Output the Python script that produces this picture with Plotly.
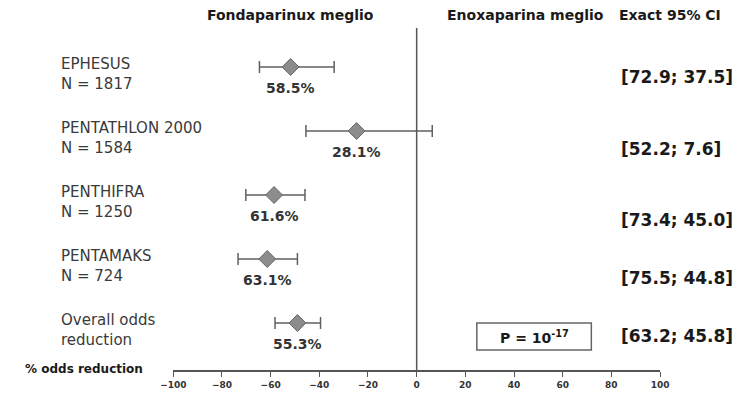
import plotly.graph_objects as go

# ---- data ----
studies = ["EPHESUS", "PENTATHLON 2000", "PENTHIFRA", "PENTAMAKS", "Overall odds<br>reduction"]
subtitles = ["N = 1817", "N = 1584", "N = 1250", "N = 724", ""]
point = [-51.8, -24.7, -58.6, -61.4, -49.0]
ci_low = [-64.6, -45.5, -70.2, -73.4, -58.2]
ci_high = [-33.9, 6.4, -45.9, -49.0, -39.5]
pct_labels = ["58.5%", "28.1%", "61.6%", "63.1%", "55.3%"]
ci_labels = ["[72.9; 37.5]", "[52.2; 7.6]", "[73.4; 45.0]", "[75.5; 44.8]", "[63.2; 45.8]"]
tick_vals = [-100, -80, -60, -40, -20, 0, 20, 40, 60, 80, 100]

W, H = 742, 395
FONT = "DejaVu Sans"
rows = list(range(len(studies)))

def px(x):
    return x / W

def py(y):
    return 1 - y / H

fig = go.Figure()
fig.add_trace(go.Scatter(
    x=point, y=rows, mode="markers",
    marker=dict(symbol="diamond", size=13, color="#8c8c8c",
                line=dict(color="#666666", width=1)),
    error_x=dict(type="data", symmetric=False,
                 array=[h - p for h, p in zip(ci_high, point)],
                 arrayminus=[p - l for p, l in zip(point, ci_low)],
                 color="#606060", thickness=1.5, width=6),
    showlegend=False, hoverinfo="skip",
))

ann = []
# headers
ann.append(dict(x=px(286), y=py(15), xref="paper", yref="paper", text="Fondaparinux meglio",
                showarrow=False, xanchor="center", yanchor="middle",
                font=dict(family=FONT, size=14, color="#1a1a1a", weight="bold")))
ann.append(dict(x=px(445), y=py(15), xref="paper", yref="paper", text="Enoxaparina meglio",
                showarrow=False, xanchor="left", yanchor="middle",
                font=dict(family=FONT, size=14, color="#1a1a1a", weight="bold")))
ann.append(dict(x=px(622), y=py(15), xref="paper", yref="paper", text="Exact 95% CI",
                showarrow=False, xanchor="left", yanchor="middle",
                font=dict(family=FONT, size=14, color="#1a1a1a", weight="bold")))

ci_shift = [-10, -18, -25, -19, -13]
for i in rows:
    txt = studies[i] + ("<br>" + subtitles[i] if subtitles[i] else "")
    ann.append(dict(x=px(47), y=i, xref="paper", yref="y", text=txt, showarrow=False,
                    xanchor="left", yanchor="middle", align="left", yshift=-7,
                    font=dict(family=FONT, size=15, color="#3a3a3a")))
    ann.append(dict(x=point[i], y=i, xref="x", yref="y", text=pct_labels[i], showarrow=False,
                    xanchor="center", yanchor="middle", yshift=-21,
                    font=dict(family=FONT, size=14, color="#333333", weight="bold")))
    ann.append(dict(x=px(625), y=i, xref="paper", yref="y", text=ci_labels[i], showarrow=False,
                    xanchor="left", yanchor="middle", yshift=ci_shift[i],
                    font=dict(family=FONT, size=17, color="#1a1a1a", weight="bold")))

ann.append(dict(x=px(10), y=py(369), xref="paper", yref="paper", text="% odds reduction",
                showarrow=False, xanchor="left", yanchor="middle",
                font=dict(family=FONT, size=12, color="#1a1a1a", weight="bold")))
ann.append(dict(x=px(537), y=py(337), xref="paper", yref="paper",
                text="P = 10<sup>-17</sup>", showarrow=False, xanchor="center", yanchor="middle",
                font=dict(family=FONT, size=14, color="#1a1a1a", weight="bold")))

shapes = [
    dict(type="line", xref="x", yref="paper", x0=0, x1=0, y0=py(370), y1=py(28),
         line=dict(color="#555555", width=1.5)),
    dict(type="rect", xref="paper", yref="paper", x0=px(478), x1=px(596), y0=py(350), y1=py(323),
         line=dict(color="#666666", width=1.5), fillcolor="rgba(0,0,0,0)"),
]

# axis pixel geometry: x=0 at 416 px, 2.508 px per unit
x_left = 416 - 100 * 2.508
x_right = 416 + 100 * 2.508
y_bottom = 370
row_top, row_step = 67, 64

fig.update_layout(
    width=W, height=H, autosize=False,
    margin=dict(l=0, r=0, t=0, b=0),
    paper_bgcolor="white", plot_bgcolor="white",
    xaxis=dict(domain=[px(x_left), px(x_right)], range=[-100, 100],
               tickvals=tick_vals, ticks="outside", ticklen=5, tickwidth=1.2, tickcolor="#555555",
               showline=True, linecolor="#555555", linewidth=1.5, showgrid=False, zeroline=False,
               tickfont=dict(family=FONT, size=9, color="#333333", weight="bold"),
               fixedrange=True),
    yaxis=dict(domain=[1 - y_bottom / H, 1],
               range=[(y_bottom - row_top) / row_step, -row_top / row_step],
               visible=False, showgrid=False, zeroline=False, fixedrange=True),
    annotations=ann, shapes=shapes,
)

fig.write_html("out.html", config={"displayModeBar": False},
               post_script="document.body.style.margin='0px';document.body.style.overflow='hidden';")
